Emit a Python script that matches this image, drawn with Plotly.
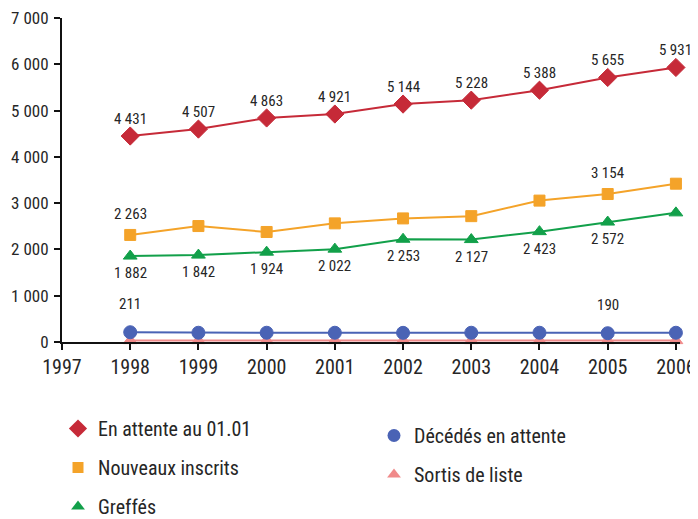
import plotly.graph_objects as go

years = [1998, 1999, 2000, 2001, 2002, 2003, 2004, 2005, 2006]

en_attente = [4450, 4600, 4840, 4925, 5140, 5225, 5440, 5715, 5931]
en_attente_lbl = ["4 431", "4 507", "4 863", "4 921", "5 144", "5 228", "5 388", "5 655", "5 931"]

nouveaux = [2313, 2505, 2377, 2563, 2670, 2719, 3055, 3197, 3420]
nouveaux_lbl = ["2 263", None, None, None, None, None, None, "3 154", None]

greffes = [1856, 1877, 1941, 2006, 2220, 2213, 2384, 2591, 2790]
greffes_lbl = ["1 882", "1 842", "1 924", "2 022", "2 253", "2 127", "2 423", "2 572", None]

decedes = [211, 200, 200, 200, 198, 200, 200, 190, 200]
decedes_lbl = ["211", None, None, None, None, None, None, "190", None]

sortis = [30, 30, 30, 30, 30, 30, 30, 30, 30]

FONT = "Liberation Sans Narrow, Roboto Condensed, Arial Narrow, Liberation Sans, sans-serif"
TXT = "#262626"

# page body has an 8px margin inside the 698x519 window
W, H = 690, 511

fig = go.Figure()

series = [
    ("En attente au 01.01", en_attente, "#c62a38", "diamond", 14, "legend", 1),
    ("Nouveaux inscrits", nouveaux, "#f4a329", "square", 11, "legend", 2),
    ("Greffés", greffes, "#12a04a", "triangle-up", 12, "legend", 3),
    ("Décédés en attente", decedes, "#4a63b5", "circle", 13, "legend2", 4),
    ("Sortis de liste", sortis, "#f08a8a", "triangle-up", 12, "legend2", 5),
]

# data traces (pink first so the blue line lies over it)
for name, vals, col, sym, size, leg, rank in reversed(series):
    fig.add_trace(go.Scatter(
        x=years, y=vals, name=name, mode="lines+markers",
        line=dict(color=col, width=2),
        marker=dict(symbol=sym, size=size, color=col, line=dict(color=col, width=1)),
        cliponaxis=False, showlegend=False,
    ))

# legend-only entries (marker without line, like the reference)
for name, vals, col, sym, size, leg, rank in series:
    fig.add_trace(go.Scatter(
        x=[None], y=[None], name=name, mode="markers",
        marker=dict(symbol=sym, size=size, color=col),
        legend=leg, legendgroup=f"g{rank}", legendrank=rank, showlegend=True,
    ))

def add_labels(vals, labels, yshift):
    for x, v, t in zip(years, vals, labels):
        if t:
            fig.add_annotation(x=x, y=v, text=t, showarrow=False, yshift=yshift,
                               font=dict(family=FONT, size=15, color=TXT))

add_labels(en_attente, en_attente_lbl, 17)
add_labels(nouveaux, nouveaux_lbl, 21)
add_labels(greffes, greffes_lbl, -17)
add_labels(decedes, decedes_lbl, 28)

fig.update_layout(
    width=W, height=H,
    margin=dict(l=54, r=18, t=10, b=H - 334, autoexpand=False),
    paper_bgcolor="white", plot_bgcolor="white",
    font=dict(family=FONT, color=TXT),
    separators=", ",
    xaxis=dict(range=[1997, 2006.06], tickvals=list(range(1997, 2007)),
               showgrid=False, zeroline=False, showline=True, linecolor="#111", linewidth=2,
               ticks="outside", ticklen=6, tickcolor="#111", tickwidth=2,
               ticklabeloverflow="allow",
               tickfont=dict(family=FONT, size=20, color=TXT)),
    yaxis=dict(range=[0, 7000], tickvals=[0, 1000, 2000, 3000, 4000, 5000, 6000, 7000],
               tickformat=",d", ticklabeloverflow="allow", ticklabelstandoff=2,
               showgrid=False, zeroline=False, showline=True, linecolor="#111", linewidth=2,
               ticks="outside", ticklen=6, tickcolor="#111", tickwidth=2,
               tickfont=dict(family=FONT, size=17, color=TXT)),
    legend=dict(x=50 / W, y=1 - 401 / H, xref="container", yref="container",
                xanchor="left", yanchor="top", orientation="v", tracegroupgap=10,
                font=dict(family=FONT, size=20, color=TXT), itemwidth=30),
    legend2=dict(x=366 / W, y=1 - 408 / H, xref="container", yref="container",
                 xanchor="left", yanchor="top", orientation="v", tracegroupgap=10,
                 font=dict(family=FONT, size=20, color=TXT), itemwidth=30),
    showlegend=True,
)

fig.write_html("out.html")
